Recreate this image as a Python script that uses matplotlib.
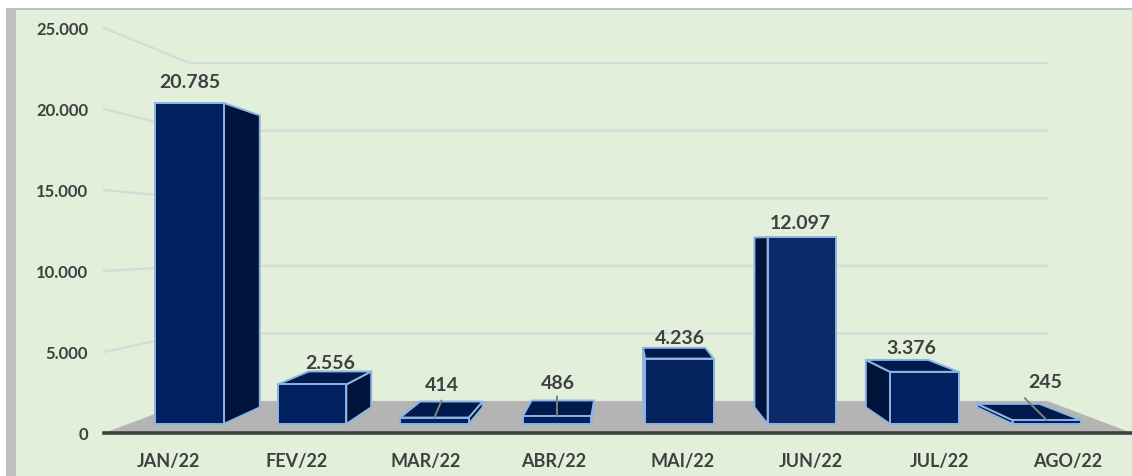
import matplotlib
matplotlib.use("Agg")
import matplotlib.pyplot as plt
from matplotlib.patches import Polygon, Rectangle

MONTHS = ['JAN/22', 'FEV/22', 'MAR/22', 'ABR/22', 'MAI/22', 'JUN/22', 'JUL/22', 'AGO/22']
VALUES = [20785, 2556, 414, 486, 4236, 12097, 3376, 245]
VALUE_LABELS = ['20.785', '2.556', '414', '486', '4.236', '12.097', '3.376', '245']
Y_TICKS = [0, 5000, 10000, 15000, 20000, 25000]
Y_TICK_LABELS = ['0', '5.000', '10.000', '15.000', '20.000', '25.000']

WIDTH = 1132
HEIGHT = 477
PLOT_LEFT = 104
PLOT_BOTTOM = 434
PLOT_TOP = 29

# perspective: the axes are the front plane, things further back shrink towards this point
VANISH_X = 3.53
VANISH_Y = 11914
WALL_DEPTH = 0.834
BAR_FRONT = 0.953
BAR_BACK = 0.867
BAR_WIDTH = 0.56

GREEN = '#E2EFDA'
STRIP = '#BFBFBF'
GRID = '#D9D9DC'
FLOOR = '#B4B4B4'
AXIS = '#404040'
TEXT = '#404040'
EDGE = '#8DB4E2'
SIDE = '#00133A'
TOP = '#001A4E'
FRONT = ['#002060', '#002060', '#002060', '#002060', '#04235F', '#0C2968', '#032262', '#002060']

# label offset from the front top centre of each bar, pixels
LABEL_OFFSET = [(0, 22), (18, 22), (7.5, 33), (1, 34), (0, 21), (-2, 15), (-13, 24), (-2, 39)]
# the small bars have a leader line up to their label
LEADERS = {2: (7, 17), 3: (0, 20), 7: (-22, 22)}

plt.rcParams['font.family'] = ['Lato', 'DejaVu Sans']
plt.rcParams['font.weight'] = 'bold'


def project(x, y, depth):
    return (VANISH_X + (x - VANISH_X) * depth, VANISH_Y + (y - VANISH_Y) * depth)


def draw_walls(ax):
    left, right = ax.get_xlim()
    floor = [project(left, 0, 1), project(right, 0, 1),
             project(right, 0, WALL_DEPTH), project(left, 0, WALL_DEPTH)]
    ax.add_patch(Polygon(floor, closed=True, facecolor=FLOOR, edgecolor='none', zorder=1, clip_on=False))

    for tick in Y_TICKS[1:]:
        pts = [project(left, tick, 1), project(left, tick, WALL_DEPTH), project(right, tick, WALL_DEPTH)]
        ax.plot([p[0] for p in pts], [p[1] for p in pts], color=GRID, lw=1.6, zorder=1,
                solid_joinstyle='miter', clip_on=False)

    ax.plot([left, right], [0, 0], color=AXIS, lw=2.6, zorder=2, clip_on=False)


def draw_bar(ax, center, value, front_color):
    x0 = center - BAR_WIDTH / 2
    x1 = center + BAR_WIDTH / 2
    style = dict(edgecolor=EDGE, linewidth=1.4, joinstyle='miter', zorder=3, clip_on=False)

    # side facing the middle of the chart
    side_x = x1 if center < VANISH_X else x0
    side = [project(side_x, 0, BAR_FRONT), project(side_x, value, BAR_FRONT),
            project(side_x, value, BAR_BACK), project(side_x, 0, BAR_BACK)]
    ax.add_patch(Polygon(side, closed=True, facecolor=SIDE, **style))

    if value < VANISH_Y:
        top = [project(x0, value, BAR_FRONT), project(x1, value, BAR_FRONT),
               project(x1, value, BAR_BACK), project(x0, value, BAR_BACK)]
        ax.add_patch(Polygon(top, closed=True, facecolor=TOP, **style))

    front = [project(x0, 0, BAR_FRONT), project(x1, 0, BAR_FRONT),
             project(x1, value, BAR_FRONT), project(x0, value, BAR_FRONT)]
    ax.add_patch(Polygon(front, closed=True, facecolor=front_color, **style))


def main():
    fig = plt.figure(figsize=(WIDTH / 100, HEIGHT / 100), dpi=100, facecolor='white')

    fig.add_artist(Rectangle((6 / WIDTH, 0), (WIDTH - 6) / WIDTH, 1 - 9 / HEIGHT,
                             transform=fig.transFigure, facecolor=STRIP, edgecolor='none', zorder=-2))
    fig.add_artist(Rectangle((16 / WIDTH, 0), (WIDTH - 16) / WIDTH, 1 - 11 / HEIGHT,
                             transform=fig.transFigure, facecolor=GREEN, edgecolor='none', zorder=-1))

    ax = fig.add_axes([PLOT_LEFT / WIDTH, (HEIGHT - PLOT_BOTTOM) / HEIGHT,
                       (WIDTH - PLOT_LEFT) / WIDTH, (PLOT_BOTTOM - PLOT_TOP) / HEIGHT])
    ax.patch.set_alpha(0)
    ax.set_xlim(-0.5, len(MONTHS) - 0.5)
    ax.set_ylim(0, 25000)
    for spine in ax.spines.values():
        spine.set_visible(False)

    ax.set_xticks(range(len(MONTHS)))
    ax.set_xticklabels(MONTHS, fontsize=13, color=TEXT)
    ax.set_yticks(Y_TICKS)
    ax.set_yticklabels(Y_TICK_LABELS, fontsize=12, color=TEXT)
    ax.tick_params(axis='both', length=0)
    ax.tick_params(axis='x', pad=14)
    ax.tick_params(axis='y', pad=11.5)

    draw_walls(ax)

    for i, value in enumerate(VALUES):
        draw_bar(ax, i, value, FRONT[i])
        anchor = project(i, value, BAR_FRONT)

        if i in LEADERS:
            ax.annotate('', xy=anchor, xytext=LEADERS[i], textcoords='offset pixels',
                        arrowprops=dict(arrowstyle='-', color='#7F7F7F', lw=1.4,
                                        shrinkA=0, shrinkB=0), zorder=4)

        ax.annotate(VALUE_LABELS[i], xy=anchor, xytext=LABEL_OFFSET[i], textcoords='offset pixels',
                    ha='center', va='center', fontsize=14, color=TEXT, zorder=5)

    fig.savefig('out.png', dpi=100, facecolor=fig.get_facecolor())
    plt.close(fig)


if __name__ == "__main__":
    main()
